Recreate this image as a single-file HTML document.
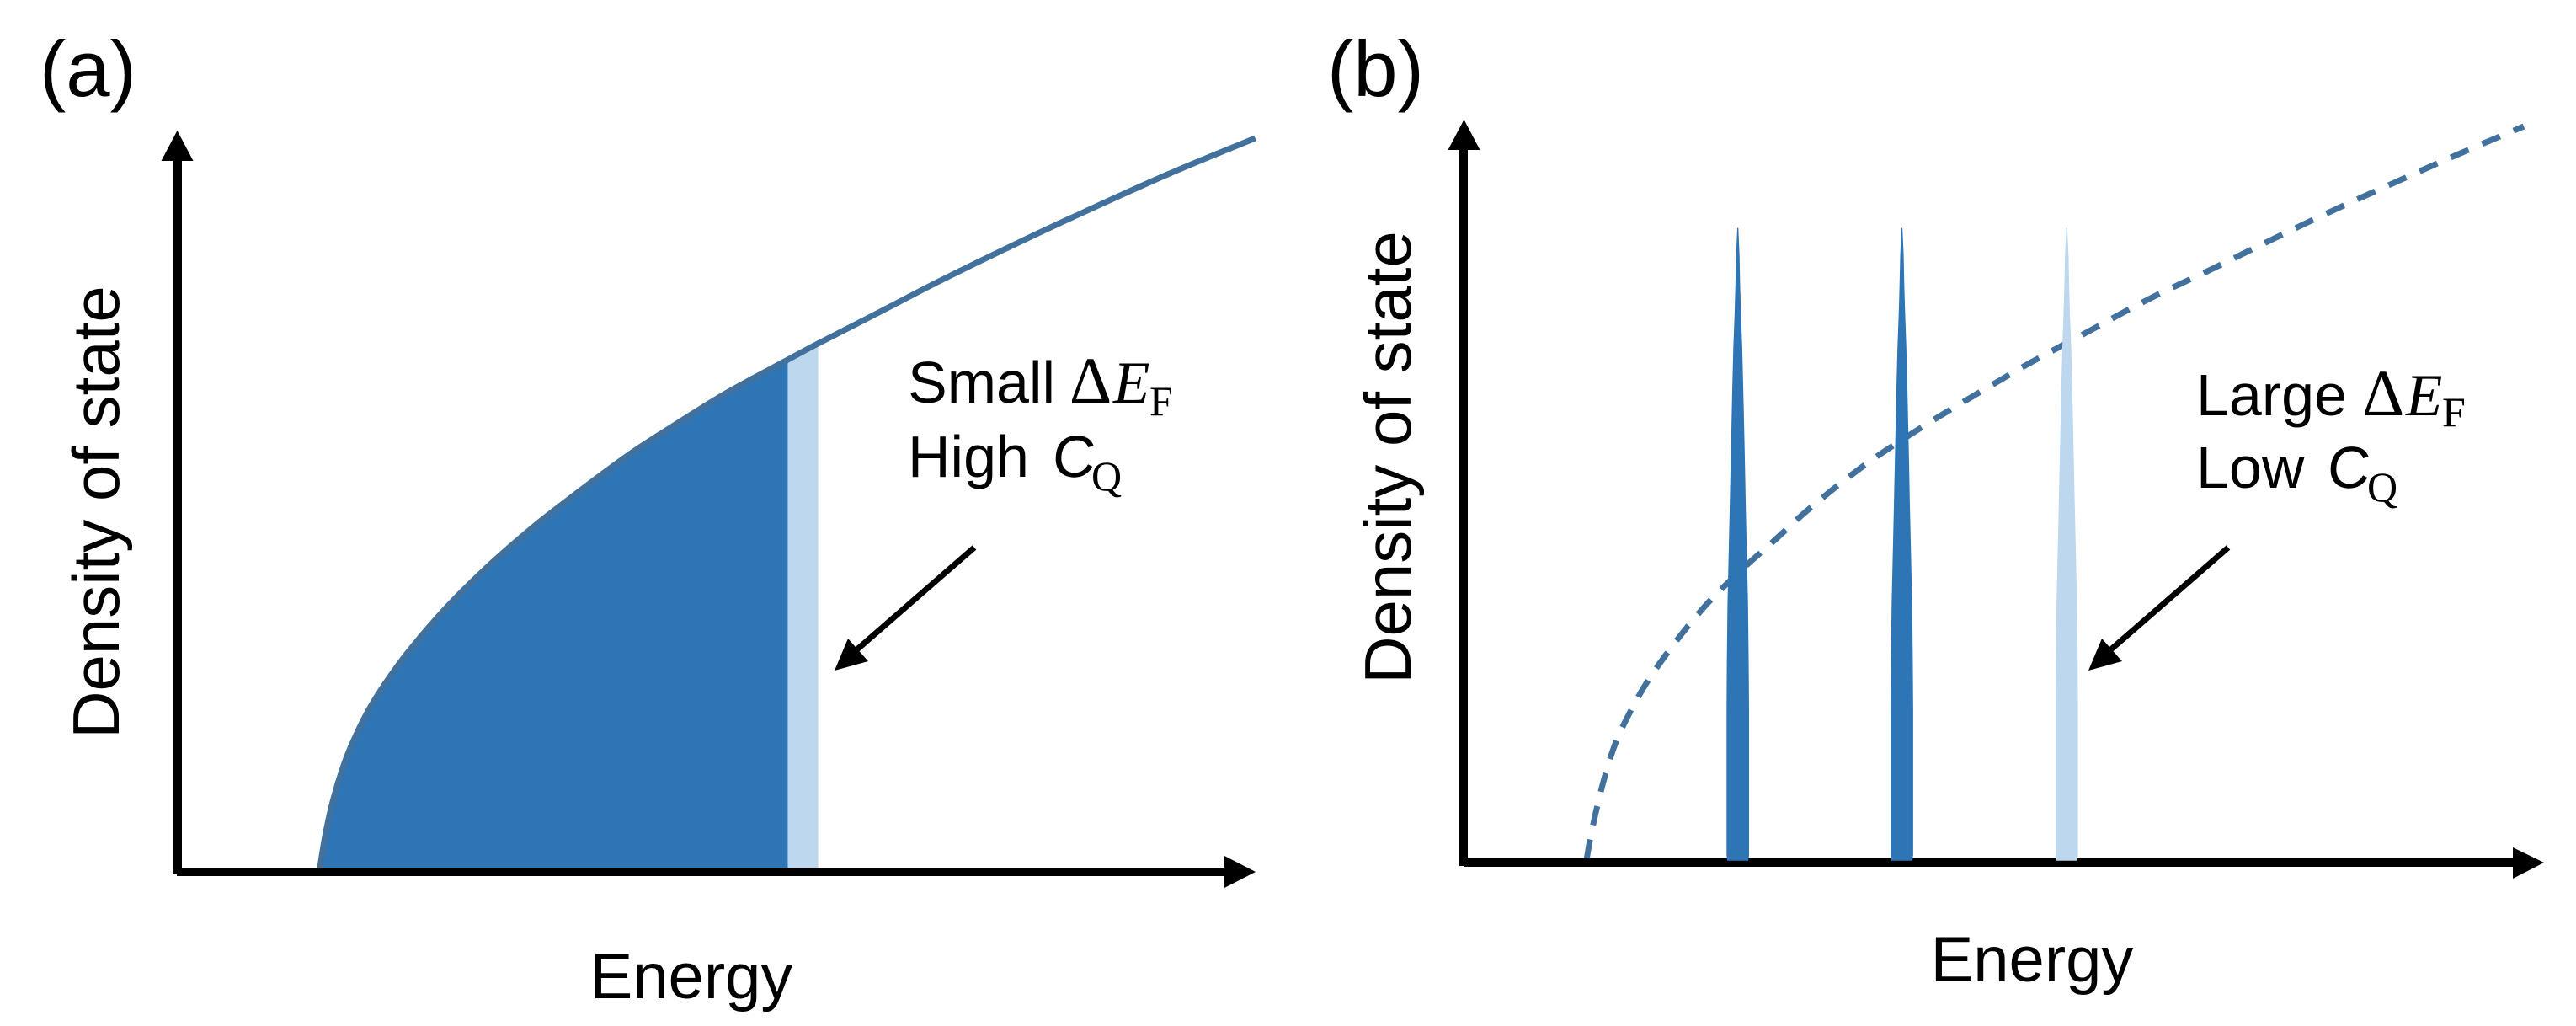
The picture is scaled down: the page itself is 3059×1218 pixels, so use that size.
<!DOCTYPE html>
<html lang="en">
<head>
<meta charset="utf-8">
<title>Density of state vs energy</title>
<style>
html,body{margin:0;padding:0;background:#fff;width:3059px;height:1218px;overflow:hidden}
svg{display:block}
text{font-family:"Liberation Sans",Arial,sans-serif;fill:#000}
.serif{font-family:"Liberation Serif",serif}
</style>
</head>
<body>
<svg id="figure" width="3059" height="1218" viewBox="0 0 3059 1218" xmlns="http://www.w3.org/2000/svg">
  <defs>
    <clipPath id="clip-under-a"><path id="area-a"></path></clipPath>
  </defs>

  <g>
    <g clip-path="url(#clip-under-a)">
      <rect id="fill-dark-a" fill="#2e75b6"></rect>
      <rect id="fill-light-a" fill="#bdd7ee"></rect>
    </g>
    <path id="line-a" fill="none" stroke="#41719c" stroke-width="7"></path>
    <rect x="205" y="185" width="11" height="853" fill="#000"></rect>
    <polygon points="210.500,155 229.500,191 191.500,191" fill="#000"></polygon>
    <rect x="210" y="1030" width="1250" height="10" fill="#000"></rect>
    <polygon points="1491,1035 1454,1016 1454,1054" fill="#000"></polygon>
    <text x="47" y="114" font-size="94">(a)</text>
    <text transform="translate(141 608) rotate(-90)" text-anchor="middle" font-size="78">Density of state</text>
    <text x="821" y="1185" text-anchor="middle" font-size="76">Energy</text>
    <g>
      <text x="1078" y="478" font-size="70">Small</text>
      <text class="serif" x="1270" y="478" font-size="78">Δ</text>
      <text class="serif" x="1322" y="478" font-size="71" font-style="italic">E</text>
      <text class="serif" x="1365" y="493" font-size="50">F</text>
    </g>
    <g>
      <text x="1078" y="566" font-size="70">High</text>
      <text transform="translate(1248.500 566) skewX(-4)" font-size="70">C</text>
      <text class="serif" x="1296" y="582" font-size="50">Q</text>
    </g>
    <g>
      <line x1="1157" y1="650" x2="1012" y2="776" stroke="#000" stroke-width="7"></line>
      <polygon points="991,796 1007,758 1031,785" fill="#000"></polygon>
    </g>
  </g>

  <g id="panel-b">
    <path id="line-b" fill="none" stroke="#41719c" stroke-width="7" stroke-dasharray="23 17.500" stroke-dashoffset="-4.800"></path>
    <rect x="1733" y="170" width="10" height="858" fill="#000"></rect>
    <polygon points="1738.500,142 1757.500,178 1719.500,178" fill="#000"></polygon>
    <rect x="1738" y="1019" width="1255" height="10" fill="#000"></rect>
    <polygon points="3021,1024 2984,1006 2984,1043" fill="#000"></polygon>
    <g id="spikes"></g>
    <text x="1576" y="114" font-size="94">(b)</text>
    <text transform="translate(1675 543) rotate(-90)" text-anchor="middle" font-size="78">Density of state</text>
    <text x="2413" y="1165" text-anchor="middle" font-size="76">Energy</text>
    <g>
      <text x="2608" y="493" font-size="70">Large</text>
      <text class="serif" x="2805" y="493" font-size="78">Δ</text>
      <text class="serif" x="2857" y="493" font-size="71" font-style="italic">E</text>
      <text class="serif" x="2900" y="506" font-size="50">F</text>
    </g>
    <g>
      <text x="2608" y="579" font-size="70">Low</text>
      <text transform="translate(2762.500 579) skewX(-4)" font-size="70">C</text>
      <text class="serif" x="2811" y="595" font-size="50">Q</text>
    </g>
    <g>
      <line x1="2646" y1="650" x2="2501" y2="776" stroke="#000" stroke-width="7"></line>
      <polygon points="2480,796 2496,758 2520,785" fill="#000"></polygon>
    </g>
  </g>
</svg>

<script>
// Panel (a): continuous density of states, energy and DOS in axis percent
const energyA = [13.13, 13.75, 14.45, 15.31, 16.21, 17.62, 19.3, 21.48, 24.73, 28.36, 32.38, 35.12, 41.72, 46.17, 50.7, 56.6, 59.38, 64.73, 70.78, 77.19, 83.52, 91.84, 99.97];
const dosA = [0, 5.4, 9.89, 14.03, 17.39, 21.59, 25.51, 29.83, 35.34, 40.63, 45.8, 48.98, 56.14, 60.34, 64.43, 69.09, 71.25, 75.23, 79.77, 84.32, 88.64, 94.09, 98.98];
const fermiStartA = 56.6;
const fermiEndA = 59.42;

// Panel (b): dashed envelope and discrete level spikes
const energyB = [11.34, 11.71, 12.37, 13.15, 14.13, 15.49, 17.05, 18.86, 20.81, 22.84, 25.57, 28.47, 32.06, 37.02, 40.84, 44.58, 49.57, 52.3, 57.86, 63.43, 69.16, 74.72, 80.45, 86.18, 91.9, 98.13];
const dosB = [0, 3.1, 7.56, 11.98, 16.33, 20.49, 24.46, 28.23, 31.89, 35.29, 39.2, 42.97, 47.7, 53.4, 57.14, 60.54, 64.85, 67.15, 71.51, 75.85, 79.82, 83.79, 87.76, 91.53, 95.24, 99.09];
const spikeEnergies = [25.38, 40.57, 55.83];
const spikeHeights = [85.4, 85.4, 85.4];
const spikeFilled = [true, true, false];
const spikeLevelFraction = [0.003, 0.012, 0.242, 0.313, 0.408, 0.563, 0.65, 0.749, 0.811, 0.864, 0.911, 0.957, 1];
const spikeWidthEnergy = [1.95, 2.08, 2.08, 2.03, 1.9, 1.48, 1.27, 1.01, 0.83, 0.6, 0.44, 0.32, 0.1];

// Axis functions
function xA(e) { return 211 + e * 12.8; }
function yA(d) { return 1035 - d * 8.8; }
function xB(e) { return 1738 + e * 12.83; }
function yB(d) { return 1024 - d * 8.82; }

// Spline through the read points; handle length follows each segment's length
function smoothPath(es, ds, xf, yf) {
  const p = es.map(function (e, i) { return [xf(e), yf(ds[i])]; });
  const tangent = p.map(function (pt, i) {
    const a = p[Math.max(i - 1, 0)], c = p[Math.min(i + 1, p.length - 1)];
    const len = Math.hypot(c[0] - a[0], c[1] - a[1]) || 1;
    return [(c[0] - a[0]) / len, (c[1] - a[1]) / len];
  });
  let d = 'M' + p[0][0].toFixed(1) + ' ' + p[0][1].toFixed(1);
  for (let i = 0; i < p.length - 1; i++) {
    const b = p[i], c = p[i + 1];
    const h = Math.hypot(c[0] - b[0], c[1] - b[1]) / 3;
    d += 'C' + (b[0] + tangent[i][0] * h).toFixed(1) + ' ' + (b[1] + tangent[i][1] * h).toFixed(1) + ' ' + (c[0] - tangent[i + 1][0] * h).toFixed(1) + ' ' + (c[1] - tangent[i + 1][1] * h).toFixed(1) + ' ' + c[0].toFixed(1) + ' ' + c[1].toFixed(1);
  }
  return d;
}

// Panel (a) marks
const lineA = smoothPath(energyA, dosA, xA, yA);
document.getElementById('line-a').setAttribute('d', lineA);
const last = energyA.length - 1;
document.getElementById('area-a').setAttribute('d', lineA + 'L' + xA(energyA[last]) + ' ' + yA(0) + 'L' + xA(energyA[0]) + ' ' + yA(0) + 'Z');

function placeBand(id, e0, e1) {
  const r = document.getElementById(id);
  r.setAttribute('x', xA(e0));
  r.setAttribute('width', xA(e1) - xA(e0));
  r.setAttribute('y', yA(100));
  r.setAttribute('height', yA(0) - yA(100));
}
placeBand('fill-dark-a', energyA[0], fermiStartA);
placeBand('fill-light-a', fermiStartA, fermiEndA);

// Panel (b) marks
document.getElementById('line-b').setAttribute('d', smoothPath(energyB, dosB, xB, yB));

const spikeGroup = document.getElementById('spikes');
spikeEnergies.forEach(function (centre, i) {
  const path = document.createElementNS('http://www.w3.org/2000/svg', 'path');
  const height = spikeHeights[i];
  let right = '', left = '';
  spikeLevelFraction.forEach(function (f, j) {
    const half = spikeWidthEnergy[j] / 2;
    const y = yB(height * f).toFixed(1);
    right += (j ? 'L' : 'M') + xB(centre + half).toFixed(1) + ' ' + y;
    left = 'L' + xB(centre - half).toFixed(1) + ' ' + y + left;
  });
  path.setAttribute('d', right + left + 'Z');
  path.setAttribute('fill', spikeFilled[i] ? '#2e75b6' : '#bdd7ee');
  
  
  spikeGroup.appendChild(path);
});
</script>
</body>
</html>
